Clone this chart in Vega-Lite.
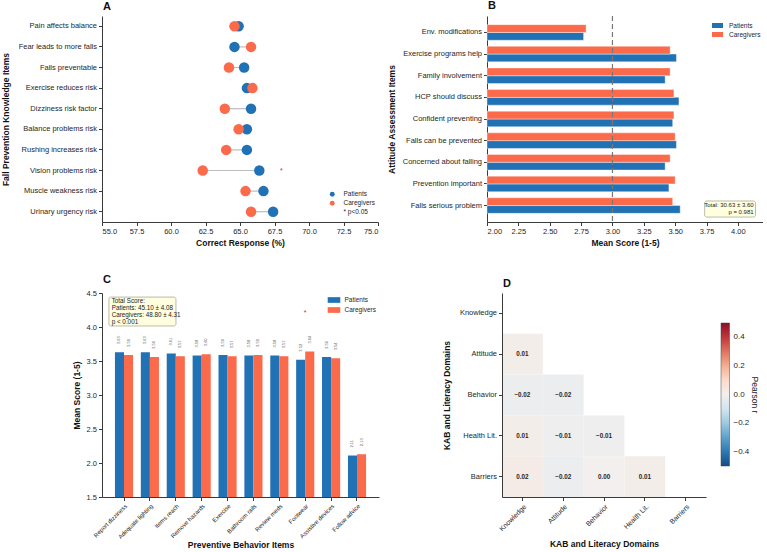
{
  "$schema": "https://vega.github.io/schema/vega-lite/v6.json",
  "background": "white",
  "padding": {"left": 1, "top": 0, "right": 0, "bottom": 0},
  "autosize": {"type": "pad"},
  "config": {
    "font": "Liberation Sans",
    "view": {"stroke": null},
    "axis": {
      "grid": false,
      "domainColor": "#3a3a3a",
      "tickColor": "#3a3a3a",
      "labelColor": "#262626",
      "titleColor": "#111111",
      "labelFontSize": 7.5,
      "titleFontSize": 8.5,
      "titleFontWeight": "bold",
      "tickSize": 3.5,
      "labelPadding": 2,
      "domainWidth": 1,
      "tickWidth": 1,
      "labelOverlap": false
    },
    "legend": {"labelFontSize": 6.5, "labelColor": "#262626", "padding": 0, "rowPadding": 3, "labelOffset": 7},
    "title": {"fontSize": 11, "fontWeight": "bold", "anchor": "start", "frame": "group", "offset": 4, "color": "#111111"}
  },
  "datasets": {
    "knowledge": [
      {"item": "Pain affects balance", "Patients": 64.9, "Caregivers": 64.6},
      {"item": "Fear leads to more falls", "Patients": 64.6, "Caregivers": 65.8},
      {"item": "Falls preventable", "Patients": 65.3, "Caregivers": 64.2},
      {"item": "Exercise reduces risk", "Patients": 65.5, "Caregivers": 65.9},
      {"item": "Dizziness risk factor", "Patients": 65.8, "Caregivers": 63.9},
      {"item": "Balance problems risk", "Patients": 65.5, "Caregivers": 64.9},
      {"item": "Rushing increases risk", "Patients": 65.5, "Caregivers": 64.0},
      {"item": "Vision problems risk", "Patients": 66.4, "Caregivers": 62.3},
      {"item": "Muscle weakness risk", "Patients": 66.7, "Caregivers": 65.4},
      {"item": "Urinary urgency risk", "Patients": 67.4, "Caregivers": 65.8}
    ],
    "attitude": [
      {"item": "Env. modifications", "group": "Patients", "score": 2.77},
      {"item": "Env. modifications", "group": "Caregivers", "score": 2.79},
      {"item": "Exercise programs help", "group": "Patients", "score": 3.51},
      {"item": "Exercise programs help", "group": "Caregivers", "score": 3.46},
      {"item": "Family involvement", "group": "Patients", "score": 3.42},
      {"item": "Family involvement", "group": "Caregivers", "score": 3.46},
      {"item": "HCP should discuss", "group": "Patients", "score": 3.53},
      {"item": "HCP should discuss", "group": "Caregivers", "score": 3.49},
      {"item": "Confident preventing", "group": "Patients", "score": 3.48},
      {"item": "Confident preventing", "group": "Caregivers", "score": 3.49},
      {"item": "Falls can be prevented", "group": "Patients", "score": 3.51},
      {"item": "Falls can be prevented", "group": "Caregivers", "score": 3.50},
      {"item": "Concerned about falling", "group": "Patients", "score": 3.42},
      {"item": "Concerned about falling", "group": "Caregivers", "score": 3.46},
      {"item": "Prevention important", "group": "Patients", "score": 3.45},
      {"item": "Prevention important", "group": "Caregivers", "score": 3.50},
      {"item": "Falls serious problem", "group": "Patients", "score": 3.54},
      {"item": "Falls serious problem", "group": "Caregivers", "score": 3.48}
    ],
    "behavior": [
      {"item": "Report dizziness", "group": "Patients", "score": 3.63},
      {"item": "Report dizziness", "group": "Caregivers", "score": 3.59},
      {"item": "Adequate lighting", "group": "Patients", "score": 3.63},
      {"item": "Adequate lighting", "group": "Caregivers", "score": 3.56},
      {"item": "Items reach", "group": "Patients", "score": 3.61},
      {"item": "Items reach", "group": "Caregivers", "score": 3.57},
      {"item": "Remove hazards", "group": "Patients", "score": 3.58},
      {"item": "Remove hazards", "group": "Caregivers", "score": 3.60},
      {"item": "Exercise", "group": "Patients", "score": 3.59},
      {"item": "Exercise", "group": "Caregivers", "score": 3.57},
      {"item": "Bathroom rails", "group": "Patients", "score": 3.58},
      {"item": "Bathroom rails", "group": "Caregivers", "score": 3.59},
      {"item": "Review meds", "group": "Patients", "score": 3.58},
      {"item": "Review meds", "group": "Caregivers", "score": 3.57},
      {"item": "Footwear", "group": "Patients", "score": 3.52},
      {"item": "Footwear", "group": "Caregivers", "score": 3.64},
      {"item": "Assistive devices", "group": "Patients", "score": 3.56},
      {"item": "Assistive devices", "group": "Caregivers", "score": 3.54},
      {"item": "Follow advice", "group": "Patients", "score": 2.11},
      {"item": "Follow advice", "group": "Caregivers", "score": 2.13}
    ],
    "correlations": [
      {"row": "Attitude", "col": "Knowledge", "r": 0.01},
      {"row": "Behavior", "col": "Knowledge", "r": -0.02},
      {"row": "Behavior", "col": "Attitude", "r": -0.02},
      {"row": "Health Lit.", "col": "Knowledge", "r": 0.01},
      {"row": "Health Lit.", "col": "Attitude", "r": -0.01},
      {"row": "Health Lit.", "col": "Behavior", "r": -0.01},
      {"row": "Barriers", "col": "Knowledge", "r": 0.02},
      {"row": "Barriers", "col": "Attitude", "r": -0.02},
      {"row": "Barriers", "col": "Behavior", "r": 0.00},
      {"row": "Barriers", "col": "Health Lit.", "r": 0.01}
    ]
  },
  "spacing": 27,
  "resolve": {"scale": {"color": "independent"}, "legend": {"color": "independent"}},
  "vconcat": [
    {
      "bounds": "flush",
      "spacing": 109,
      "resolve": {"scale": {"color": "independent"}, "legend": {"color": "independent"}},
      "hconcat": [
        {
          "title": {"text": "A", "dx": 1},
          "width": 276,
          "height": 206,
          "layer": [
            {
              "data": {"name": "knowledge"},
              "mark": {"type": "rule", "color": "#bdbdbd", "strokeWidth": 1.2},
              "encoding": {
                "y": {"field": "item", "type": "nominal", "sort": ["Pain affects balance", "Fear leads to more falls", "Falls preventable", "Exercise reduces risk", "Dizziness risk factor", "Balance problems risk", "Rushing increases risk", "Vision problems risk", "Muscle weakness risk", "Urinary urgency risk"], "axis": {"title": "Fall Prevention Knowledge Items", "titlePadding": 8}},
                "x": {"field": "Patients", "type": "quantitative", "scale": {"domain": [55, 75], "nice": false, "zero": false}, "axis": {"title": "Correct Response (%)", "values": [55, 57.5, 60, 62.5, 65, 67.5, 70, 72.5, 75], "format": ".1f", "titlePadding": 3}},
                "x2": {"field": "Caregivers"}
              }
            },
            {
              "data": {"name": "knowledge"},
              "transform": [{"fold": ["Patients", "Caregivers"], "as": ["group", "pct"]}],
              "mark": {"type": "circle", "size": 110, "opacity": 1},
              "encoding": {
                "y": {"field": "item", "type": "nominal", "sort": ["Pain affects balance", "Fear leads to more falls", "Falls preventable", "Exercise reduces risk", "Dizziness risk factor", "Balance problems risk", "Rushing increases risk", "Vision problems risk", "Muscle weakness risk", "Urinary urgency risk"], "axis": {"title": "Fall Prevention Knowledge Items", "titlePadding": 8}},
                "x": {"field": "pct", "type": "quantitative", "axis": {"title": "Correct Response (%)", "values": [55, 57.5, 60, 62.5, 65, 67.5, 70, 72.5, 75], "format": ".1f", "titlePadding": 3}},
                "color": {
                  "field": "group",
                  "type": "nominal",
                  "scale": {"domain": ["Patients", "Caregivers", "* p<0.05"], "range": ["#2171b5", "#fb6a4a", "rgba(0,0,0,0)"]},
                  "legend": {"orient": "none", "legendX": 227, "legendY": 175, "title": null, "symbolType": "circle", "symbolSize": 24, "symbolStrokeWidth": 0, "rowPadding": 2, "labelOffset": 8}
                }
              }
            },
            {
              "data": {"values": [{"item": "Vision problems risk", "flag": "*"}]},
              "mark": {"type": "text", "color": "#d62728", "fontSize": 7, "baseline": "middle"},
              "encoding": {
                "y": {"field": "item", "type": "nominal", "sort": ["Pain affects balance", "Fear leads to more falls", "Falls preventable", "Exercise reduces risk", "Dizziness risk factor", "Balance problems risk", "Rushing increases risk", "Vision problems risk", "Muscle weakness risk", "Urinary urgency risk"], "axis": {"title": "Fall Prevention Knowledge Items", "titlePadding": 8}},
                "x": {"datum": 68, "type": "quantitative", "axis": {"title": "Correct Response (%)", "values": [55, 57.5, 60, 62.5, 65, 67.5, 70, 72.5, 75], "format": ".1f", "titlePadding": 3}},
                "text": {"field": "flag"}
              }
            }
          ]
        },
        {
          "title": {"text": "B", "dx": 1},
          "width": 276,
          "height": 206,
          "resolve": {"scale": {"y": "independent"}},
          "layer": [
            {
              "layer": [
                {
                  "data": {"name": "attitude"},
                  "mark": {"type": "bar", "stroke": "white", "strokeWidth": 0.4},
                  "encoding": {
                    "y": {"field": "item", "type": "nominal", "sort": ["Env. modifications", "Exercise programs help", "Family involvement", "HCP should discuss", "Confident preventing", "Falls can be prevented", "Concerned about falling", "Prevention important", "Falls serious problem"], "scale": {"paddingInner": 0.28, "paddingOuter": 0.4}, "axis": {"title": "Attitude Assessment Items", "titlePadding": 6}},
                    "yOffset": {"field": "group", "type": "nominal", "sort": ["Caregivers", "Patients"]},
                    "x": {"field": "score", "type": "quantitative", "scale": {"domain": [2, 4.2], "nice": false, "zero": false}, "axis": {"title": "Mean Score (1-5)", "values": [2, 2.25, 2.5, 2.75, 3, 3.25, 3.5, 3.75, 4], "format": ".2f", "titlePadding": 3}},
                    "x2": {"datum": 2},
                    "color": {
                      "field": "group",
                      "type": "nominal",
                      "scale": {"domain": ["Patients", "Caregivers"], "range": ["#2171b5", "#fb6a4a"]},
                      "legend": {"orient": "none", "legendX": 225, "legendY": 4, "title": null, "symbolType": "M-1,-0.45H1V0.45H-1Z", "symbolSize": 121, "symbolStrokeWidth": 0, "rowPadding": -3, "labelOffset": 6}
                    }
                  }
                },
                {
                  "data": {"values": [{"ref": 3}]},
                  "mark": {"type": "rule", "color": "#777777", "strokeDash": [5, 3], "strokeWidth": 1.2},
                  "encoding": {
                    "x": {"field": "ref", "type": "quantitative", "axis": {"title": "Mean Score (1-5)", "values": [2, 2.25, 2.5, 2.75, 3, 3.25, 3.5, 3.75, 4], "format": ".2f", "titlePadding": 3}}
                  }
                }
              ]
            },
            {
              "data": {"values": [{"note": "Total: 30.63 ± 3.60\np = 0.981"}]},
              "layer": [
                {
                  "mark": {"type": "rect", "fill": "#ffffe0", "stroke": "#a9a99a", "strokeWidth": 0.8, "cornerRadius": 2},
                  "encoding": {
                    "x": {"datum": 3.735, "type": "quantitative", "axis": {"title": "Mean Score (1-5)", "values": [2, 2.25, 2.5, 2.75, 3, 3.25, 3.5, 3.75, 4], "format": ".2f", "titlePadding": 3}},
                    "x2": {"datum": 4.14},
                    "y": {"datum": 0.024, "type": "quantitative", "scale": {"domain": [0, 1], "nice": false}, "axis": null},
                    "y2": {"datum": 0.102}
                  }
                },
                {
                  "mark": {"type": "text", "align": "right", "baseline": "top", "lineBreak": "\n", "fontSize": 6, "lineHeight": 7, "color": "#222222"},
                  "encoding": {
                    "x": {"datum": 4.125, "type": "quantitative", "axis": {"title": "Mean Score (1-5)", "values": [2, 2.25, 2.5, 2.75, 3, 3.25, 3.5, 3.75, 4], "format": ".2f", "titlePadding": 3}},
                    "y": {"datum": 0.097, "type": "quantitative", "axis": null},
                    "text": {"field": "note"}
                  }
                }
              ]
            }
          ]
        }
      ]
    },
    {
      "bounds": "flush",
      "spacing": 123,
      "resolve": {"scale": {"color": "independent"}, "legend": {"color": "independent"}},
      "hconcat": [
        {
          "title": {"text": "C", "dx": 1},
          "width": 277,
          "height": 204,
          "resolve": {"scale": {"x": "independent"}},
          "layer": [
            {
              "layer": [
                {
                  "data": {"name": "behavior"},
                  "mark": {"type": "bar"},
                  "encoding": {
                    "x": {"field": "item", "type": "nominal", "sort": ["Report dizziness", "Adequate lighting", "Items reach", "Remove hazards", "Exercise", "Bathroom rails", "Review meds", "Footwear", "Assistive devices", "Follow advice"], "scale": {"paddingInner": 0.3, "paddingOuter": 0.5}, "axis": {"title": "Preventive Behavior Items", "labelAngle": -45, "labelAlign": "right", "labelBaseline": "top", "labelFontSize": 6, "titlePadding": 1}},
                    "xOffset": {"field": "group", "type": "nominal", "sort": ["Patients", "Caregivers"]},
                    "y": {"field": "score", "type": "quantitative", "scale": {"domain": [1.5, 4.5], "nice": false, "zero": false}, "axis": {"title": "Mean Score (1-5)", "values": [1.5, 2, 2.5, 3, 3.5, 4, 4.5], "format": ".1f", "titlePadding": 5}},
                    "y2": {"datum": 1.5},
                    "color": {
                      "field": "group",
                      "type": "nominal",
                      "scale": {"domain": ["Patients", "Caregivers"], "range": ["#2171b5", "#fb6a4a"]},
                      "legend": {"orient": "none", "legendX": 225.5, "legendY": 0.5, "title": null, "symbolType": "M-1,-0.45H1V0.45H-1Z", "symbolSize": 159, "symbolStrokeWidth": 0, "rowPadding": -4, "labelOffset": 4}
                    }
                  }
                },
                {
                  "data": {"name": "behavior"},
                  "mark": {"type": "text", "angle": 270, "align": "left", "baseline": "middle", "dx": 8, "fontSize": 4, "color": "#555555"},
                  "encoding": {
                    "x": {"field": "item", "type": "nominal", "sort": ["Report dizziness", "Adequate lighting", "Items reach", "Remove hazards", "Exercise", "Bathroom rails", "Review meds", "Footwear", "Assistive devices", "Follow advice"]},
                    "xOffset": {"field": "group", "type": "nominal", "sort": ["Patients", "Caregivers"]},
                    "y": {"field": "score", "type": "quantitative", "axis": {"title": "Mean Score (1-5)", "values": [1.5, 2, 2.5, 3, 3.5, 4, 4.5], "format": ".1f", "titlePadding": 5}},
                    "text": {"field": "score", "type": "quantitative", "format": ".2f"}
                  }
                },
                {
                  "data": {"values": [{"item": "Footwear", "flag": "*"}]},
                  "mark": {"type": "text", "color": "#d62728", "fontSize": 7, "baseline": "middle"},
                  "encoding": {
                    "x": {"field": "item", "type": "nominal", "sort": ["Report dizziness", "Adequate lighting", "Items reach", "Remove hazards", "Exercise", "Bathroom rails", "Review meds", "Footwear", "Assistive devices", "Follow advice"]},
                    "y": {"datum": 4.2, "type": "quantitative", "axis": {"title": "Mean Score (1-5)", "values": [1.5, 2, 2.5, 3, 3.5, 4, 4.5], "format": ".1f", "titlePadding": 5}},
                    "text": {"field": "flag"}
                  }
                }
              ]
            },
            {
              "data": {"values": [{"note": "Total Score:\nPatients: 45.10 ± 4.08\nCaregivers: 48.80 ± 4.31\np < 0.001"}]},
              "layer": [
                {
                  "mark": {"type": "rect", "fill": "#ffffe0", "stroke": "#a9a99a", "strokeWidth": 0.8, "cornerRadius": 2},
                  "encoding": {
                    "x": {"datum": 0.025, "type": "quantitative", "scale": {"domain": [0, 1], "nice": false}, "axis": null},
                    "x2": {"datum": 0.267},
                    "y": {"datum": 4.44, "type": "quantitative", "axis": {"title": "Mean Score (1-5)", "values": [1.5, 2, 2.5, 3, 3.5, 4, 4.5], "format": ".1f", "titlePadding": 5}},
                    "y2": {"datum": 4.015}
                  }
                },
                {
                  "mark": {"type": "text", "align": "left", "baseline": "top", "lineBreak": "\n", "fontSize": 6.3, "lineHeight": 6.8, "color": "#222222"},
                  "encoding": {
                    "x": {"datum": 0.035, "type": "quantitative", "axis": null},
                    "y": {"datum": 4.42, "type": "quantitative", "axis": {"title": "Mean Score (1-5)", "values": [1.5, 2, 2.5, 3, 3.5, 4, 4.5], "format": ".1f", "titlePadding": 5}},
                    "text": {"field": "note"}
                  }
                }
              ]
            }
          ]
        },
        {
          "title": {"text": "D", "dx": 1},
          "width": 204,
          "height": 204,
          "data": {"name": "correlations"},
          "layer": [
            {
              "mark": {"type": "rect"},
              "encoding": {
                "x": {"field": "col", "type": "nominal", "scale": {"domain": ["Knowledge", "Attitude", "Behavior", "Health Lit.", "Barriers"], "paddingInner": 0, "paddingOuter": 0}, "axis": {"title": "KAB and Literacy Domains", "labelAngle": -45, "labelAlign": "right", "labelBaseline": "top", "labelFontSize": 7, "titlePadding": 8}},
                "y": {"field": "row", "type": "nominal", "scale": {"domain": ["Knowledge", "Attitude", "Behavior", "Health Lit.", "Barriers"], "paddingInner": 0, "paddingOuter": 0}, "axis": {"title": "KAB and Literacy Domains", "titlePadding": 8}},
                "color": {
                  "field": "r",
                  "type": "quantitative",
                  "scale": {"scheme": "redblue", "reverse": true, "domain": [-0.5, 0.5]},
                  "legend": {"orient": "none", "legendX": 219, "legendY": 30, "direction": "vertical", "gradientLength": 143, "gradientThickness": 8.5, "gradientStrokeColor": "#444444", "gradientStrokeWidth": 0.5, "values": [-0.4, -0.2, 0, 0.2, 0.4], "format": ".1f", "labelFontSize": 8, "labelOffset": 4, "title": "Pearson r", "titleOrient": "right", "titleAngle": 270, "titleFontWeight": "normal", "titleFontSize": 8.5, "titleColor": "#262626", "titleAlign": "center", "titleBaseline": "middle", "titlePadding": 6}
                }
              }
            },
            {
              "mark": {"type": "text", "fontSize": 6.3, "fontWeight": "bold", "color": "#262626"},
              "encoding": {
                "x": {"field": "col", "type": "nominal"},
                "y": {"field": "row", "type": "nominal"},
                "text": {"field": "r", "type": "quantitative", "format": ".2f"}
              }
            }
          ]
        }
      ]
    }
  ]
}
